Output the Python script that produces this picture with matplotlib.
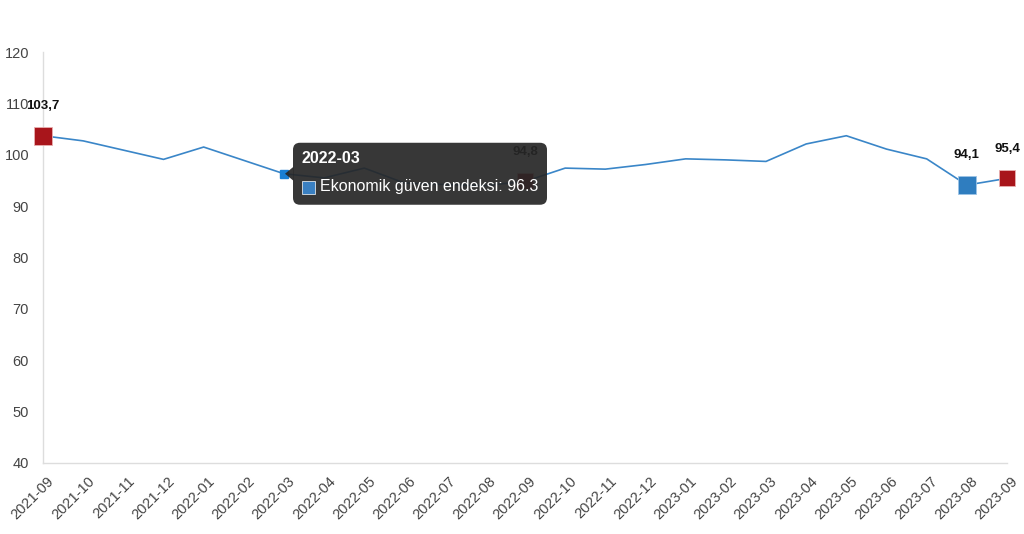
import matplotlib.pyplot as plt
from matplotlib.patches import FancyBboxPatch, Polygon, Rectangle
from matplotlib.transforms import IdentityTransform, ScaledTranslation

plt.rcParams['font.family'] = ['Liberation Sans', 'DejaVu Sans']

months = ['2021-09', '2021-10', '2021-11', '2021-12', '2022-01', '2022-02',
          '2022-03', '2022-04', '2022-05', '2022-06', '2022-07', '2022-08',
          '2022-09', '2022-10', '2022-11', '2022-12', '2023-01', '2023-02',
          '2023-03', '2023-04', '2023-05', '2023-06', '2023-07', '2023-08',
          '2023-09']
values = [103.7, 102.7, 100.9, 99.1, 101.5, 98.9, 96.3, 95.5, 97.4, 94.5,
          94.2, 94.0, 94.8, 97.4, 97.2, 98.1, 99.2, 99.0, 98.7, 102.1,
          103.7, 101.1, 99.2, 94.1, 95.4]

# highlighted points: index, colour, size
highlights = [(0, '#a8151b', 13), (12, '#a8151b', 12), (23, '#2f7dbf', 13),
              (24, '#a8151b', 12)]
hover_idx = 6
series_name = 'Ekonomik güven endeksi'

fig = plt.figure(figsize=(10.24, 5.34), dpi=100)
ax = fig.add_axes([43 / 1024, 1 - 463 / 534, 964 / 1024, 411 / 534])

x = list(range(len(months)))
ax.plot(x, values, color='#3a86c8', lw=1.2, zorder=2)

for i, c, s in highlights:
    ax.plot(x[i], values[i], marker='s', ms=s, color=c,
            mec='#e8b0b0' if c != '#2f7dbf' else '#9cc4e6',
            mew=0.6, ls='none', clip_on=False, zorder=3)
    ax.annotate(f'{values[i]:.1f}'.replace('.', ','), (x[i], values[i]),
                xytext=(0, 17), textcoords='offset points', ha='center',
                va='bottom', fontsize=9.5, fontweight='bold', color='#111111',
                zorder=4, annotation_clip=False)

ax.plot(x[hover_idx], values[hover_idx], marker='s', ms=6, color='#1a7fd4',
        ls='none', zorder=3)

ax.set_xlim(0, len(months) - 1)
ax.set_ylim(40, 120)
ax.set_yticks(range(40, 121, 10))
ax.set_xticks(x)
ax.set_xticklabels(months, rotation=45, ha='right', rotation_mode='anchor')
ax.tick_params(axis='x', length=0, pad=8, labelsize=10.5, labelcolor='#444444')
ax.tick_params(axis='y', length=0, pad=10, labelsize=10.5, labelcolor='#444444')
shift = ScaledTranslation(4 / 100, 0, fig.dpi_scale_trans)
for lab in ax.get_xticklabels():
    lab.set_transform(lab.get_transform() + shift)
for side in ['top', 'right']:
    ax.spines[side].set_visible(False)
for side in ['left', 'bottom']:
    ax.spines[side].set_color('#dddddd')
    ax.spines[side].set_linewidth(1)

# tooltip in pixel coordinates next to the hovered point
px, py = ax.transData.transform((x[hover_idx], values[hover_idx]))
tr = IdentityTransform()
bx, bw, bh = px + 9, 254, 62
by = py - bh / 2
box = FancyBboxPatch((bx, by), bw, bh, boxstyle='round,pad=0,rounding_size=7',
                     fc='#262626', ec='none', alpha=0.92, transform=tr,
                     zorder=10)
fig.add_artist(box)
arrow = Polygon([(px + 1, py), (bx + 0.5, py + 7), (bx + 0.5, py - 7)],
                closed=True, fc='#262626', ec='none', alpha=0.92,
                transform=tr, zorder=10)
fig.add_artist(arrow)
fig.text(bx + 9, by + bh - 16, months[hover_idx], transform=tr,
         color='white', fontsize=11.5, fontweight='bold', va='center',
         zorder=11)
fig.add_artist(Rectangle((bx + 9, by + 11), 13, 13, fc='#3a80c2', ec='white',
                         lw=0.5, transform=tr, zorder=11))
fig.text(bx + 27, by + 18, f'{series_name}: {values[hover_idx]}',
         transform=tr, color='white', fontsize=11.5, va='center', zorder=11)

fig.savefig('out.png', dpi=100)
